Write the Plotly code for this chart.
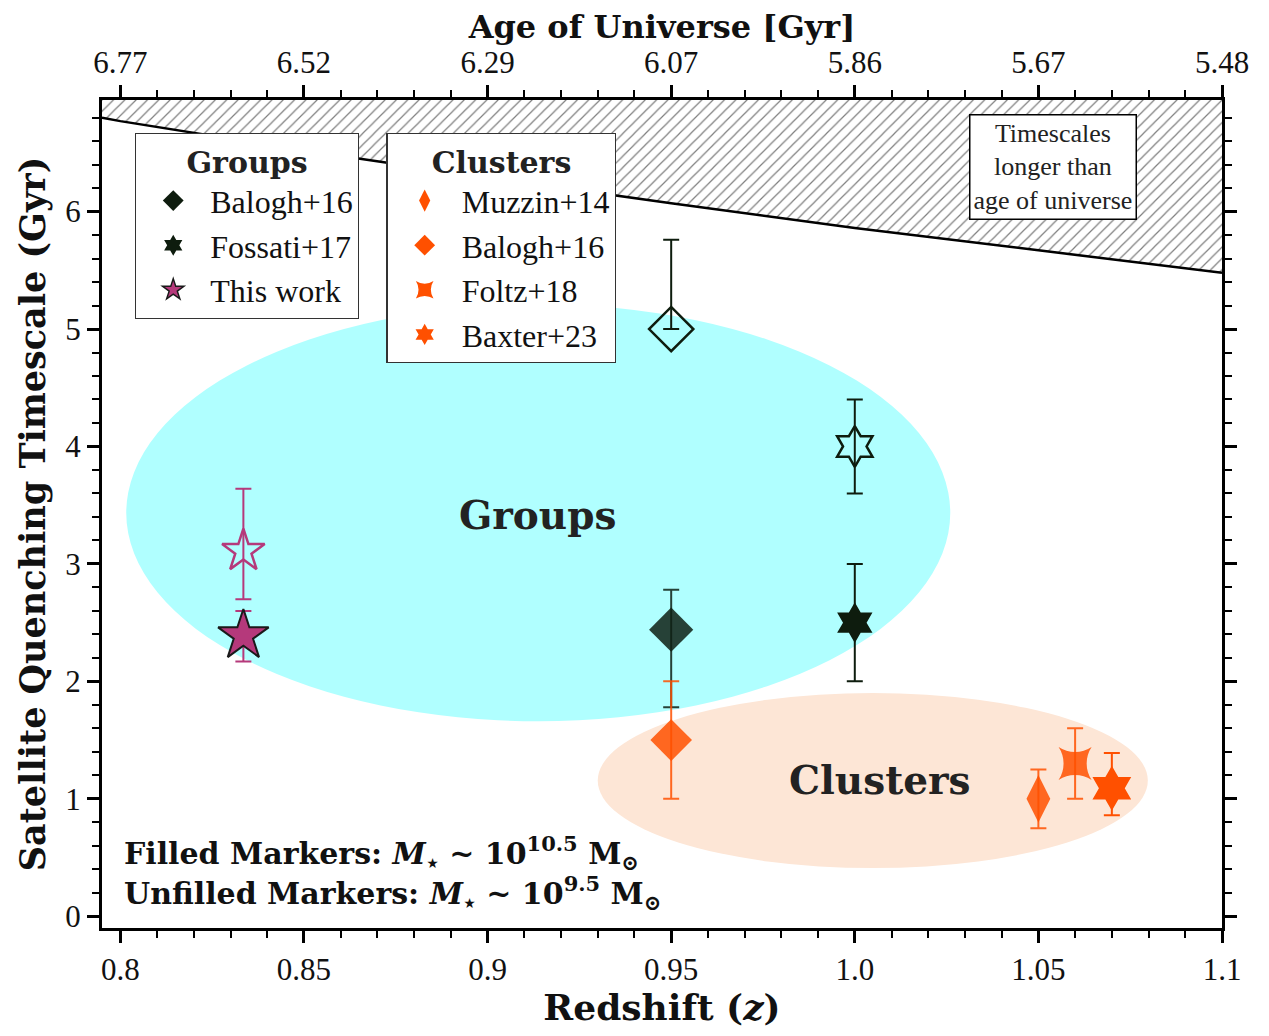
import plotly.graph_objects as go

# ---------------- data ----------------
age_z = [0.795, 0.8, 0.85, 0.9, 0.95, 1.0, 1.05, 1.1]
age_gyr = [6.80, 6.77, 6.52, 6.29, 6.07, 5.86, 5.67, 5.48]
top_tick_z = [0.8, 0.85, 0.9, 0.95, 1.0, 1.05, 1.1]
top_tick_text = ["6.77", "6.52", "6.29", "6.07", "5.86", "5.67", "5.48"]
bottom_tick_text = ["0.8", "0.85", "0.9", "0.95", "1.0", "1.05", "1.1"]

# groups
this_work_filled = dict(z=[0.8335], t=[2.39], up=[0.21], lo=[0.22])
this_work_open = dict(z=[0.8335], t=[3.11], up=[0.53], lo=[0.41])
balogh_grp_filled = dict(z=[0.95], t=[2.44], up=[0.34], lo=[0.66])
balogh_grp_open = dict(z=[0.95], t=[5.0], up=[0.76], lo=[0.0])
fossati_filled = dict(z=[1.0], t=[2.5], up=[0.5], lo=[0.5])
fossati_open = dict(z=[1.0], t=[4.0], up=[0.4], lo=[0.4])
# clusters
muzzin = dict(z=[1.05], t=[1.0], up=[0.25], lo=[0.25])
balogh_cl = dict(z=[0.95], t=[1.5], up=[0.5], lo=[0.5])
foltz = dict(z=[1.06], t=[1.3], up=[0.3], lo=[0.3])
baxter = dict(z=[1.07], t=[1.09], up=[0.3], lo=[0.23])

X_RANGE = [0.795, 1.1]
Y_RANGE = [-0.1, 6.95]

GRP = "#0e1c0e"
GRP_A = "rgba(14,32,20,0.85)"
MAG = "#b5397b"
ORG = "#ff5000"
ORG_A = "rgba(255,80,0,0.85)"
FONT = "Liberation Serif"
BFONT = "DejaVu Serif"

fig = go.Figure()

# hatched region (timescales longer than age of universe)
fig.add_trace(go.Scatter(x=age_z, y=age_gyr, mode="lines",
                         line=dict(color="black", width=2.5),
                         showlegend=False, hoverinfo="skip"))
fig.add_trace(go.Scatter(x=age_z, y=[Y_RANGE[1]] * len(age_z), mode="lines",
                         line=dict(color="black", width=0), fill="tonexty",
                         fillcolor="rgba(0,0,0,0)",
                         fillpattern=dict(shape="/", fgcolor="black", bgcolor="white",
                                          size=8, solidity=0.15),
                         showlegend=False, hoverinfo="skip"))


def pts(d, symbol, size, fill, lcolor, lw, ecolor):
    fig.add_trace(go.Scatter(
        x=d["z"], y=d["t"], mode="markers", showlegend=False,
        marker=dict(symbol=symbol, size=size, color=fill,
                    line=dict(color=lcolor, width=lw)),
        error_y=dict(type="data", array=d["up"], arrayminus=d["lo"],
                     color=ecolor, thickness=2, width=8)))


# groups
pts(this_work_open, "star-open", 32, MAG, MAG, 2.5, MAG)
pts(this_work_filled, "star", 38, MAG, "#1a1a1a", 2, MAG)
pts(balogh_grp_open, "diamond-open", 34, GRP, GRP, 2.5, GRP)
pts(balogh_grp_filled, "diamond", 34, GRP_A, GRP_A, 0, GRP_A)
pts(fossati_open, "hexagram-open", 31, GRP, GRP, 2.5, GRP)
pts(fossati_filled, "hexagram", 31, GRP, GRP, 0, GRP)
# clusters
pts(muzzin, "diamond-tall", 34, ORG_A, ORG_A, 0, ORG_A)
pts(balogh_cl, "diamond", 32, ORG_A, ORG_A, 0, ORG_A)
pts(foltz, "star-square", 30, ORG_A, ORG_A, 0, ORG_A)
pts(baxter, "hexagram", 34, ORG, ORG, 0, ORG)


# legend entries
def leg(name, symbol, size, color, lcolor, lw, legend):
    fig.add_trace(go.Scatter(x=[None], y=[None], mode="markers", name=name,
                             marker=dict(symbol=symbol, size=size, color=color,
                                         line=dict(color=lcolor, width=lw)),
                             legend=legend))


leg("Balogh+16", "diamond", 26, GRP, GRP, 0, "legend")
leg("Fossati+17", "hexagram", 26, GRP, GRP, 0, "legend")
leg("This work", "star", 28, MAG, "#1a1a1a", 1.5, "legend")
leg("Muzzin+14", "diamond-tall", 28, ORG, ORG, 0, "legend2")
leg("Balogh+16", "diamond", 26, ORG, ORG, 0, "legend2")
leg("Foltz+18", "star-square", 24, ORG, ORG, 0, "legend2")
leg("Baxter+23", "hexagram", 26, ORG, ORG, 0, "legend2")

# invisible trace on top axis so it renders
fig.add_trace(go.Scatter(x=[X_RANGE[0]], y=[Y_RANGE[0]], xaxis="x2", mode="markers",
                         marker=dict(opacity=0), showlegend=False, hoverinfo="skip"))

# ellipses
fig.add_shape(type="circle", xref="x", yref="y", x0=0.8016, x1=1.026, y0=1.66, y1=5.21,
              fillcolor="#b0ffff", line=dict(width=0), layer="below")
fig.add_shape(type="circle", xref="x", yref="y", x0=0.930, x1=1.0798, y0=0.41, y1=1.90,
              fillcolor="#fde6d6", line=dict(width=0), layer="below")

fig.add_annotation(x=0.9135, y=3.42, text="<b>Groups</b>", showarrow=False,
                   font=dict(family=BFONT, size=39, color="#222222"))
fig.add_annotation(x=1.0069, y=1.16, text="<b>Clusters</b>", showarrow=False,
                   font=dict(family=BFONT, size=39, color="#222222"))
fig.add_annotation(x=1.054, y=6.38, text="Timescales<br>longer than<br>age of universe",
                   showarrow=False, font=dict(family=FONT, size=26, color="#222222"),
                   bgcolor="white", bordercolor="black", borderwidth=1.5, borderpad=3)
fig.add_annotation(xref="paper", yref="y", x=0.018, y=0.54, xanchor="left",
                   text="<b>Filled Markers: <i>M</i><sub>⋆</sub> ~ 10<sup>10.5</sup> M<sub>⊙</sub></b>",
                   showarrow=False, font=dict(family=BFONT, size=30, color="#111111"))
fig.add_annotation(xref="paper", yref="y", x=0.018, y=0.20, xanchor="left",
                   text="<b>Unfilled Markers: <i>M</i><sub>⋆</sub> ~ 10<sup>9.5</sup> M<sub>⊙</sub></b>",
                   showarrow=False, font=dict(family=BFONT, size=30, color="#111111"))

axis_common = dict(showline=True, linecolor="black", linewidth=3, ticks="outside",
                   ticklen=12, tickwidth=2.5, tickcolor="black", showgrid=False,
                   zeroline=False, tickfont=dict(family=FONT, size=31, color="#111111"))
minor_x = dict(dtick=0.01, tick0=0.8, ticks="outside", ticklen=7,
               tickwidth=2, tickcolor="black")

legend_common = dict(xanchor="left", yanchor="top", bgcolor="white",
                     bordercolor="#333333", borderwidth=1.2, traceorder="normal",
                     font=dict(family=FONT, size=32, color="#111111"),
                     itemwidth=64)

fig.update_layout(
    width=1253, height=1020,
    margin=dict(l=94, r=39, t=92, b=98),
    plot_bgcolor="white", paper_bgcolor="white",
    xaxis=dict(range=X_RANGE, tickvals=top_tick_z, ticktext=bottom_tick_text,
               minor=minor_x,
               title=dict(text="<b>Redshift (<i>z</i>)</b>", standoff=4,
                          font=dict(family=BFONT, size=36, color="#111111")),
               **axis_common),
    xaxis2=dict(range=X_RANGE, overlaying="x", side="top", tickvals=top_tick_z,
                ticktext=top_tick_text, anchor="y", minor=minor_x,
                title=dict(text="<b>Age of Universe [Gyr]</b>", standoff=2,
                           font=dict(family=BFONT, size=32, color="#111111")),
                **axis_common),
    yaxis=dict(range=Y_RANGE, dtick=1, tick0=0, mirror="ticks",
               minor=dict(dtick=0.2, tick0=0, ticks="outside", ticklen=7,
                          tickwidth=2, tickcolor="black"),
               title=dict(text="<b>Satellite Quenching Timescale (Gyr)</b>", standoff=10,
                          font=dict(family=BFONT, size=35, color="#111111")),
               **axis_common),
    legend=dict(x=0.0295, y=0.960,
                title=dict(text="<b>Groups</b>", side="top center",
                           font=dict(family=BFONT, size=30, color="#222222")),
                **legend_common),
    legend2=dict(x=0.254, y=0.960,
                 title=dict(text="<b>Clusters</b>", side="top center",
                            font=dict(family=BFONT, size=30, color="#222222")),
                 **legend_common),
)

fig.write_html("out.html")
